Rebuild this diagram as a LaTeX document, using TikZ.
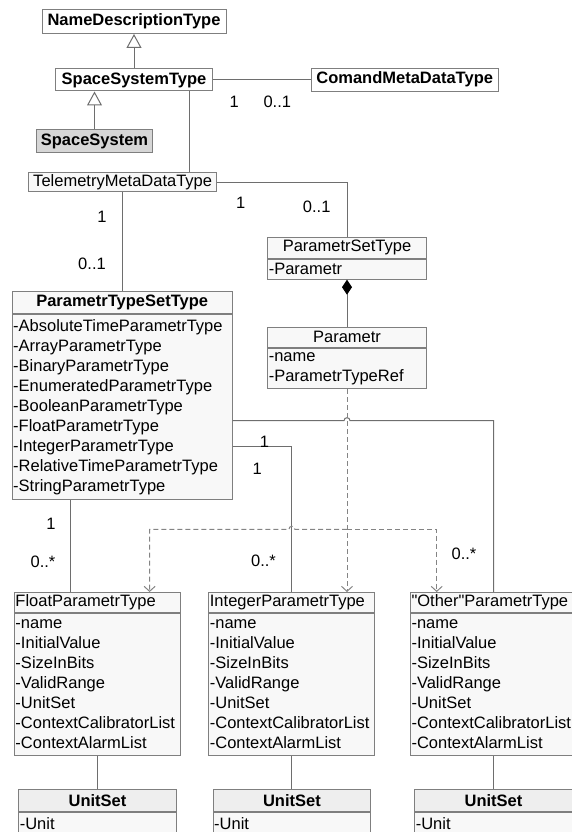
\documentclass[tikz,border=0pt]{standalone}
\usepackage{xcolor}
\usepackage{fontspec}
\setmainfont{Liberation Sans}
\usepackage{tikz}
\usetikzlibrary{arrows.meta,positioning}

\definecolor{linegray}{HTML}{6E6E6E}
\definecolor{boxgray}{HTML}{7F7F7F}
\definecolor{clsfill}{HTML}{F8F8F8}
\definecolor{headfill}{HTML}{EEEEEE}
\definecolor{sysfill}{HTML}{D6D6D6}
\newcommand{\umlfont}{\fontsize{16.5}{20}\selectfont}

\tikzset{
  plainbox/.style={draw=boxgray, line width=1pt, fill=white, inner sep=0pt, font=\umlfont\bfseries},
  head/.style={draw=boxgray, line width=1pt, fill=clsfill, inner sep=1pt, anchor=north west, font=\umlfont},
  attrs/.style={draw=boxgray, line width=1pt, fill=clsfill, inner xsep=1pt, inner ysep=0pt, anchor=north west, align=left, font=\umlfont},
  assoc/.style={draw=linegray, line width=1pt},
  gen/.style={assoc, -{Triangle[open, length=14pt, width=15pt, fill=white]}},
  comp/.style={assoc, -{Diamond[length=15pt, width=10pt, color=black, fill=black]}},
  dep/.style={draw=linegray!85, line width=1pt, dash pattern=on 5pt off 3pt, -{Straight Barb[length=5pt, width=11pt]}},
  mult/.style={font=\umlfont, inner sep=0pt}
}

\begin{document}
\begin{tikzpicture}[x=1pt, y=-1pt]
    \useasboundingbox (0,0) rectangle (572,832);

    % top of the hierarchy
    \node[plainbox, minimum width=184pt, minimum height=23.5pt] (nd) at (134,21.7) {NameDescriptionType};
    \node[plainbox, minimum width=157pt, minimum height=22pt] (sst) at (134,80) {SpaceSystemType};
    \node[plainbox, minimum width=187.3pt, minimum height=22.7pt] (cmd) at (404.7,79.7) {ComandMetaDataType};
    \node[plainbox, fill=sysfill, minimum width=115.6pt, minimum height=22.7pt] (ss) at (94.5,141.3) {SpaceSystem};
    \node[head, minimum width=187.7pt, minimum height=19pt] (tm) at (28.3,172) {TelemetryMetaDataType};

    % parameter sets
    \node[head, minimum width=158.4pt, minimum height=21pt] (pst) at (267.3,236.7) {ParametrSetType};
    \node[attrs, text width=156.4pt, minimum height=20pt] (pst-a) at (pst.south west) {-Parametr};
    \node[head, minimum width=158.4pt, minimum height=20pt] (par) at (267.3,326.7) {Parametr};
    \node[attrs, text width=156.4pt, minimum height=40.6pt] (par-a) at (par.south west) {-name\\-ParametrTypeRef};
    \node[head, font=\umlfont\bfseries, minimum width=220pt, minimum height=22.3pt] (ptst) at (11.7,291) {ParametrTypeSetType};
    \node[attrs, text width=218pt, minimum height=185pt] (ptst-a) at (ptst.south west)
        {-AbsoluteTimeParametrType\\-ArrayParametrType\\-BinaryParametrType\\-EnumeratedParametrType\\-BooleanParametrType\\-FloatParametrType\\-IntegerParametrType\\-RelativeTimeParametrType\\-StringParametrType};

    % parameter types
    \foreach \nm/\px/\ttl in {fpt/14/FloatParametrType, ipt/208.4/IntegerParametrType, opt/410/\textquotedbl Other\textquotedbl ParametrType} {
        \node[head, text width=164pt, align=left, minimum height=20pt] (\nm) at (\px,592) {\ttl};
        \node[attrs, text width=164pt, minimum height=142pt] (\nm-a) at (\nm.south west)
            {-name\\-InitialValue\\-SizeInBits\\-ValidRange\\-UnitSet\\-ContextCalibratorList\\-ContextAlarmList};
    }

    % unit sets
    \foreach \nm/\px in {fus/18.3, ius/212.7, ous/414.3} {
        \node[head, fill=headfill, font=\umlfont\bfseries, minimum width=157.4pt, minimum height=21.7pt] (\nm) at (\px,789.3) {UnitSet};
        \node[attrs, text width=155.4pt, minimum height=22pt] (\nm-a) at (\nm.south west) {-Unit};
    }

    % helper coordinates
    \coordinate (c1) at (189.3,0);
    \coordinate (c2) at (70.5,0);
    \coordinate (j1) at (0,420.7);
    \coordinate (j2) at (0,446.7);
    \coordinate (j3) at (0,529.3);
    \coordinate (d1) at (149.6,0);
    \coordinate (d2) at (436.7,0);
    \coordinate (h1) at (par-a.south |- j1);
    \coordinate (h2) at (ipt.north |- j3);

    % generalization
    \draw[gen] (sst.north) -- (nd.south);
    \draw[gen] (ss.north) -- (ss.north |- sst.south);

    % associations
    \draw[assoc] (sst.east) -- (cmd.west |- sst.east);
    \draw[assoc] (sst.south -| c1) -- (tm.north -| c1);
    \draw[assoc] (tm.east) -| (pst.north);
    \draw[assoc] (tm.south) -- (tm.south |- ptst.north);
    \draw[comp] (par.north) -- (pst-a.south);
    \draw[assoc] (ptst-a.south -| c2) -- (fpt.north -| c2);
    \draw[assoc] (ptst-a.east |- j2) -| (ipt.north);
    \draw[assoc] (ptst-a.east |- j1) -- ([xshift=-3pt]h1)
        .. controls ([xshift=-3pt,yshift=4pt]h1) and ([xshift=3pt,yshift=4pt]h1) .. ([xshift=3pt]h1) -| (opt.north);
    \draw[assoc] (fpt-a.south) -- (fus.north);
    \draw[assoc] (ipt-a.south) -- (ius.north);
    \draw[assoc] (opt-a.south) -- (ous.north);

    % parameter type references
    \draw[dep] (par-a.south) -- (ipt.north -| par-a.south);
    \draw[dep] (par-a.south |- j3) -- ([xshift=3pt]h2)
        .. controls ([xshift=3pt,yshift=4pt]h2) and ([xshift=-3pt,yshift=4pt]h2) .. ([xshift=-3pt]h2) -| (fpt.north -| d1);
    \draw[dep] (par-a.south |- j3) -| (opt.north -| d2);

    % multiplicities
    \node[mult] (m1) at (234.3,101.7) {1};
    \node[mult] (m2) at (277.3,101.7) {0..1};
    \node[mult] (m3) at (240.7,203.3) {1};
    \node[mult] (m4) at (316.7,207.3) {0..1};
    \node[mult] (m5) at (102,217) {1};
    \node[mult] (m6) at (92,264) {0..1};
    \node[mult] (m7) at (51,524) {1};
    \node[mult] (m8) at (43,561.7) {0..*};
    \node[mult] (m9) at (264.4,442.3) {1};
    \node[mult] (m10) at (257.3,469) {1};
    \node[mult] (m11) at (263.5,561) {0..*};
    \node[mult] (m12) at (464,554) {0..*};
\end{tikzpicture}
\end{document}
